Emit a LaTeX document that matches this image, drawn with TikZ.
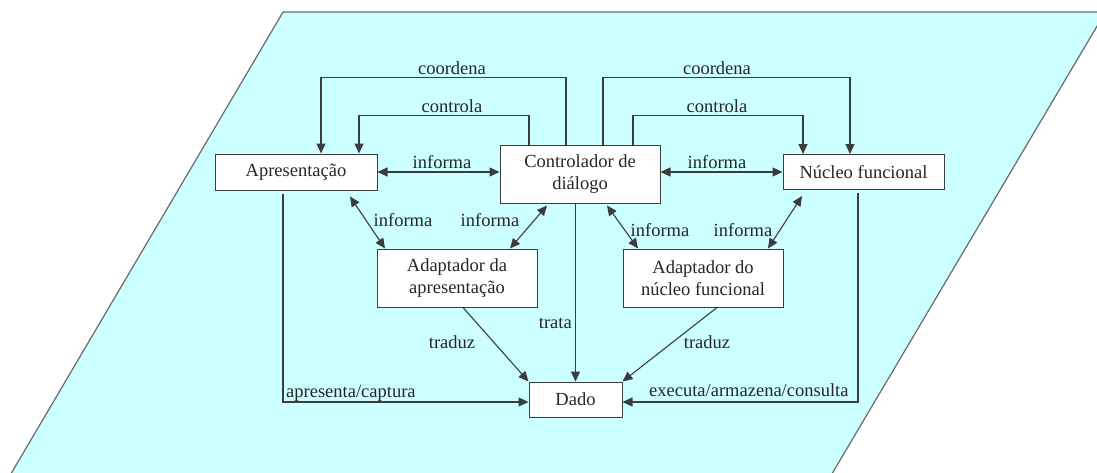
\documentclass[tikz,border=0pt]{standalone}
\usepackage{fontspec}
\setmainfont{Liberation Serif}
\usetikzlibrary{arrows.meta,calc}
\definecolor{bgcyan}{RGB}{204,255,255}
\definecolor{edge}{RGB}{60,60,60}
\definecolor{rim}{RGB}{105,105,105}
\begin{document}
\begin{tikzpicture}[x=1pt,y=-1pt,
  txt/.style={font=\fontsize{18.5}{22}\selectfont, text=black!85},
  box/.style={txt, draw=edge, fill=white, line width=1pt, inner sep=0pt, align=center},
  lbl/.style={txt, inner sep=0pt, anchor=base},
  tip/.tip={Triangle[length=10pt,width=9pt]},
  wire/.style={draw=edge, line width=1.1pt},
  link/.style={wire, -tip},
  both/.style={wire, tip-tip}]

\useasboundingbox (0,0) rectangle (1097,472);
\clip (0,0) rectangle (1097,472);

% slanted background plane
\filldraw[fill=bgcyan, draw=rim, line width=1.2pt]
  (283,12) -- (1105.4,12) -- (828.3,480) -- (7.3,480) -- cycle;

% components
\node[box, minimum width=162pt, minimum height=36pt] (apr) at (296,172) {Apresentação};
\node[box, minimum width=160pt, minimum height=58pt] (ctl) at (580,174) {Controlador de\\diálogo};
\node[box, minimum width=161pt, minimum height=35pt] (nuc) at (863.5,172) {Núcleo funcional};
\node[box, minimum width=160pt, minimum height=58pt] (ada) at (457,278) {Adaptador da\\apresentação};
\node[box, minimum width=160pt, minimum height=58pt] (adn) at (703,278) {Adaptador do\\núcleo funcional};
\node[box, minimum width=93pt, minimum height=35pt] (dado) at (575.5,399.5) {Dado};

% coordination and control loops above the controller
\draw[link] ([xshift=-14pt]ctl.north) -- ++(0,-67) -| ([xshift=25pt]apr.north);
\draw[link] ([xshift=-51pt]ctl.north) -- ++(0,-29) -| ([xshift=63pt]apr.north);
\draw[link] ([xshift=23pt]ctl.north) -- ++(0,-67) -| ([xshift=-13.5pt]nuc.north);
\draw[link] ([xshift=53pt]ctl.north) -- ++(0,-29) -| ([xshift=-60.5pt]nuc.north);

% information exchange
\draw[both] (apr.east) -- (apr.east -| ctl.west);
\draw[both] (nuc.west -| ctl.east) -- (nuc.west);
\draw[both] ([xshift=54pt,yshift=-6pt]apr.south) -- ([xshift=-72pt]ada.north);
\draw[both] ([xshift=-33pt,yshift=-2pt]ctl.south) -- ([xshift=53pt]ada.north);
\draw[both] ([xshift=27pt,yshift=-2pt]ctl.south) -- ([xshift=-65pt]adn.north);
\draw[both] ([xshift=-61.5pt,yshift=-6pt]nuc.south) -- ([xshift=65pt]adn.north);

% flows into the data
\draw[link] (dado.north |- ctl.south) -- (dado.north);
\draw[link] ([xshift=6pt]ada.south) -- (dado.north west);
\draw[link] ([xshift=14pt]adn.south) -- (dado.north east);
\draw[link] ([xshift=-13pt,yshift=-3pt]apr.south) |- ([yshift=-2.5pt]dado.west);
\draw[link] ([xshift=-5.5pt,yshift=-3pt]nuc.south) |- ([yshift=-2.5pt]dado.east);

% connector labels
\node[lbl] (t1) at (452,74) {coordena};
\node[lbl] (t2) at (717,74) {coordena};
\node[lbl] (t3) at (452,112) {controla};
\node[lbl] (t4) at (717,112) {controla};
\node[lbl] (t5) at (442,168) {informa};
\node[lbl] (t6) at (717,168) {informa};
\node[lbl] (t7) at (403,226) {informa};
\node[lbl] (t8) at (490,226) {informa};
\node[lbl] (t9) at (660,236) {informa};
\node[lbl] (t10) at (743,236) {informa};
\node[lbl, anchor=base east] (t11) at (572,328) {trata};
\node[lbl] (t12) at (452,348) {traduz};
\node[lbl] (t13) at (707,348) {traduz};
\node[lbl, anchor=base west] (t14) at (286,397) {apresenta/captura};
\node[lbl, anchor=base west] (t15) at (649,396) {executa/armazena/consulta};
\end{tikzpicture}
\end{document}
